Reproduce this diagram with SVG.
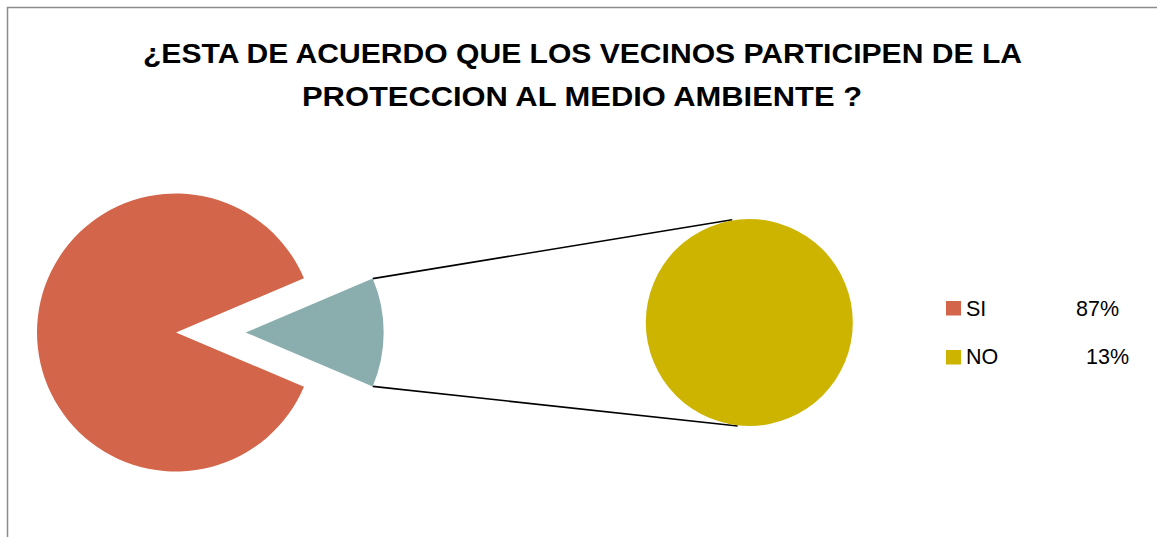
<svg xmlns="http://www.w3.org/2000/svg" width="1157" height="537" viewBox="0 0 1157 537">
<style>
.title{font-family:"Liberation Sans",Arial,sans-serif;font-weight:bold;font-size:27.5px;fill:#000}
.leg{font-family:"Liberation Sans",Arial,sans-serif;font-size:21.5px;fill:#000}
.conn{stroke:#000;stroke-width:1.6;fill:none}
</style>
<rect width="1157" height="537" fill="#fff"/>
<path d="M7.5,537 V7.5 H1157" fill="none" stroke="#8c8c8c" stroke-width="1.5"/>
<g id="title">
<text class="title" x="582.5" y="62.5" text-anchor="middle" textLength="879" lengthAdjust="spacingAndGlyphs">¿ESTA DE ACUERDO QUE LOS VECINOS PARTICIPEN DE LA</text>
<text class="title" x="582" y="106" text-anchor="middle" textLength="560" lengthAdjust="spacingAndGlyphs">PROTECCION AL MEDIO AMBIENTE ?</text>
</g>
<g id="connectors">
<line class="conn" x1="372.7" y1="278.6" x2="732.3" y2="219.7"/>
<line class="conn" x1="372.7" y1="386.4" x2="737.7" y2="426"/>
</g>
<g id="pie-si">
<path d="M176,332.5 L303.95,278.2 A139,139 0 1 0 303.95,386.8 Z" fill="#D2654A"/>
</g>
<g id="pie-no-slice">
<path d="M245.7,332.5 L372.7,278.6 A138,138 0 0 1 372.7,386.4 Z" fill="#8AADAD"/>
</g>
<g id="pie-no-detail">
<circle cx="749.3" cy="322.5" r="103.5" fill="#CCB400"/>
</g>
<g id="legend">
<rect x="946" y="301" width="15" height="14.5" fill="#D2654A"/>
<text class="leg" x="966" y="315.5">SI</text>
<text class="leg" x="1076" y="315.5">87%</text>
<rect x="946" y="350" width="15" height="14.5" fill="#CCB400"/>
<text class="leg" x="966" y="363.5">NO</text>
<text class="leg" x="1086" y="363.5">13%</text>
</g>
</svg>
